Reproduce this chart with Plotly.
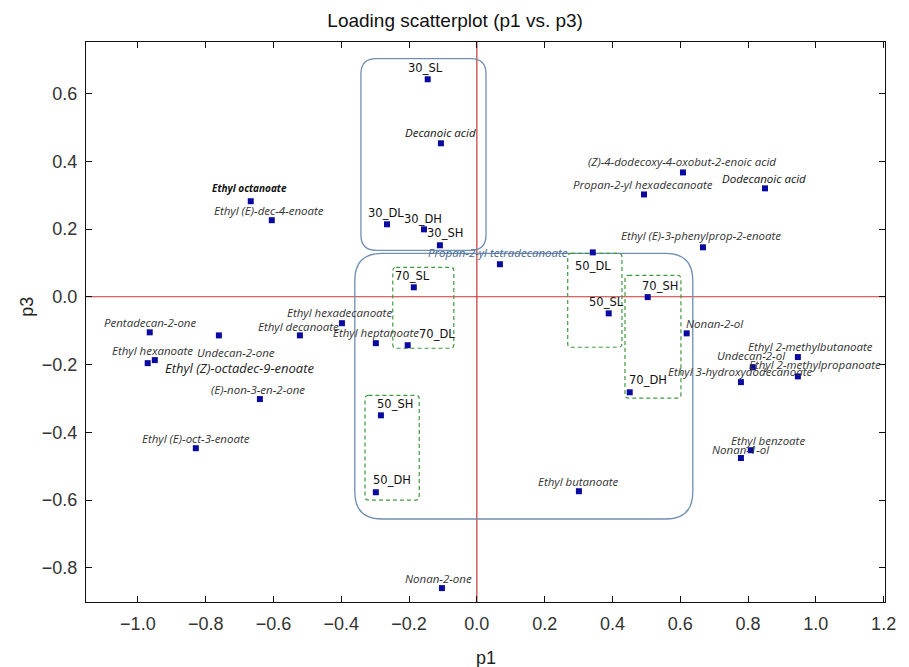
import plotly.graph_objects as go

# Loadings on components p1 and p3
names = [
    "Ethyl octanoate", "Ethyl (E)-dec-4-enoate", "Pentadecan-2-one", "Undecan-2-one",
    "Ethyl decanoate", "Ethyl hexadecanoate", "Ethyl heptanoate", "Ethyl hexanoate",
    "Ethyl (Z)-octadec-9-enoate", "(E)-non-3-en-2-one", "Ethyl (E)-oct-3-enoate",
    "30_SL", "Decanoic acid", "30_DL", "30_DH", "30_SH", "Propan-2-yl tetradecanoate",
    "50_DL", "70_SL", "50_SL", "70_DL", "70_SH", "Nonan-2-ol", "70_DH",
    "Ethyl 3-hydroxydodecanoate", "Undecan-2-ol", "Ethyl 2-methylbutanoate",
    "Ethyl 2-methylpropanoate", "Ethyl benzoate", "Nonan-1-ol",
    "(Z)-4-dodecoxy-4-oxobut-2-enoic acid", "Propan-2-yl hexadecanoate",
    "Dodecanoic acid", "Ethyl (E)-3-phenylprop-2-enoate", "Ethyl butanoate",
    "50_SH", "50_DH", "Nonan-2-one",
]
p1 = [
    -0.667, -0.605, -0.965, -0.761, -0.522, -0.398, -0.298, -0.971, -0.950, -0.640, -0.829,
    -0.145, -0.106, -0.265, -0.156, -0.109, 0.068, 0.342, -0.186, 0.389, -0.204, 0.504,
    0.619, 0.451, 0.779, 0.814, 0.947, 0.947, 0.808, 0.779, 0.608, 0.493, 0.850, 0.667,
    0.301, -0.283, -0.298, -0.103,
]
p3 = [
    0.282, 0.226, -0.105, -0.114, -0.114, -0.078, -0.137, -0.196, -0.187, -0.302, -0.447,
    0.642, 0.453, 0.214, 0.199, 0.152, 0.096, 0.131, 0.028, -0.049, -0.143, -0.001,
    -0.108, -0.282, -0.252, -0.208, -0.178, -0.235, -0.453, -0.476, 0.367, 0.302, 0.320,
    0.146, -0.574, -0.350, -0.577, -0.860,
]

# Label placement (pixel offsets of the label centre from its point)
label_dx = [
    -1, -3, 0, 17, -1, -2, 0, 5, 85, -2, 0,
    -2, 0, -1, -1, 5, -2, 0, -1, -2, 29, 12, 28, 18,
    -1, -1, 13, 17, 17, 0, -1, -1, -1, -2, -1, 14, 16, -3,
]
label_dy = [
    -13, -10, -10, 17, -9, -11, -11, -13, 8, -10, -10,
    -11, -11, -11, -10, -12, -12, 14, -11, -11, -11, -11, -10, -12,
    -11, -12, -11, -12, -10, -9, -11, -10, -10, -12, -10, -11, -12, -10,
]

dark_labels = {"Ethyl octanoate", "Dodecanoic acid", "Decanoic acid"}

LABEL_FONT = "Open Sans, Noto Sans, sans-serif"
GROUP_FONT = "DejaVu Sans, Verdana, sans-serif"
AXIS_FONT = "Liberation Sans, Arial, sans-serif"

fig = go.Figure()

# Rounded rectangle helper for the group outlines (data units)
def rounded_rect(x0, y0, x1, y1, r):
    return (
        f"M {x0 + r},{y1} L {x1 - r},{y1} Q {x1},{y1} {x1},{y1 - r} "
        f"L {x1},{y0 + r} Q {x1},{y0} {x1 - r},{y0} "
        f"L {x0 + r},{y0} Q {x0},{y0} {x0},{y0 + r} "
        f"L {x0},{y1 - r} Q {x0},{y1} {x0 + r},{y1} Z"
    )

solid_groups = [(-0.342, 0.137, 0.027, 0.703, 0.045), (-0.360, -0.656, 0.637, 0.128, 0.08)]
dashed_groups = [
    (-0.248, -0.152, -0.068, 0.087),
    (0.268, -0.149, 0.428, 0.128),
    (0.437, -0.299, 0.602, 0.063),
    (-0.330, -0.600, -0.170, -0.291),
]

shapes = []
for x0, y0, x1, y1, r in solid_groups:
    shapes.append(dict(type="path", xref="x", yref="y", path=rounded_rect(x0, y0, x1, y1, r),
                       line=dict(color="#6f8fb3", width=1.3), layer="below"))
for x0, y0, x1, y1 in dashed_groups:
    shapes.append(dict(type="path", xref="x", yref="y", path=rounded_rect(x0, y0, x1, y1, 0.01),
                       line=dict(color="#3f9a3f", width=1.2, dash="4px,3px"), layer="below"))

# Zero reference lines
shapes.append(dict(type="line", xref="x", yref="paper", x0=0, x1=0, y0=0, y1=1,
                   line=dict(color="#cc3333", width=1.2), layer="below"))
shapes.append(dict(type="line", xref="paper", yref="y", x0=0, x1=1, y0=0, y1=0,
                   line=dict(color="#cc3333", width=1.2), layer="below"))

fig.add_trace(go.Scatter(
    x=p1, y=p3, mode="markers", text=names,
    marker=dict(symbol="square", size=6, color="#0a0aa0", line=dict(width=0)),
    hoverinfo="text+x+y", showlegend=False,
))

annotations = []
for name, x, y, dx, dy in zip(names, p1, p3, label_dx, label_dy):
    is_group = name[:2].isdigit() and "_" in name
    if is_group:
        font = dict(family=GROUP_FONT, size=11.5, color="#111111")
        text = name
    elif name == "Ethyl (Z)-octadec-9-enoate":
        font = dict(family=LABEL_FONT, size=13, color="#222222")
        text = f"<i>{name}</i>"
    elif name == "Ethyl octanoate":
        font = dict(family=LABEL_FONT, size=10, color="#111111")
        text = f"<b><i>{name}</i></b>"
    elif name in dark_labels:
        font = dict(family=LABEL_FONT, size=11.5, color="#111111")
        text = f"<i>{name}</i>"
    elif name == "Propan-2-yl tetradecanoate":
        font = dict(family=LABEL_FONT, size=11.5, color="#4a6a90")
        text = f"<i>{name}</i>"
    else:
        font = dict(family=LABEL_FONT, size=11.5, color="#333333")
        text = f"<i>{name}</i>"
    annotations.append(dict(
        x=x, y=y, xref="x", yref="y", text=text, showarrow=False,
        xanchor="center", yanchor="middle", xshift=dx, yshift=-dy, font=font,
    ))

# Axis titles
annotations.append(dict(x=0.5, y=-0.0996, xref="paper", yref="paper", text="p1", showarrow=False,
                        yanchor="middle", font=dict(family=AXIS_FONT, size=18, color="#222222")))
annotations.append(dict(x=-0.074, y=0.527, xref="paper", yref="paper", text="p3", showarrow=False,
                        textangle=-90, xanchor="center", yanchor="middle",
                        font=dict(family=AXIS_FONT, size=18, color="#222222")))

axis_common = dict(
    showgrid=False, zeroline=False, showline=True, linecolor="#111111", linewidth=1.3,
    mirror="ticks", ticks="inside", ticklen=6, tickcolor="#111111", tickwidth=1,
    tickfont=dict(family=AXIS_FONT, size=18, color="#333333"),
)

fig.update_layout(
    width=909, height=667,
    margin=dict(l=86, r=24, t=42, b=65),
    paper_bgcolor="white", plot_bgcolor="white",
    title=dict(text="Loading scatterplot (p1 vs. p3)", x=0.462, xref="paper", xanchor="center",
               y=0.969, yanchor="middle", font=dict(family=AXIS_FONT, size=19, color="#111111")),
    xaxis=dict(range=[-1.153, 1.204], tickvals=[-1.0, -0.8, -0.6, -0.4, -0.2, 0.0, 0.2, 0.4, 0.6, 0.8, 1.0, 1.2],
               tickformat=".1f", ticklabelstandoff=5, **axis_common),
    yaxis=dict(range=[-0.901, 0.752], tickvals=[-0.8, -0.6, -0.4, -0.2, 0.0, 0.2, 0.4, 0.6],
               tickformat=".1f", ticklabelstandoff=4, **axis_common),
    shapes=shapes, annotations=annotations,
)

fig.write_html("out.html")
